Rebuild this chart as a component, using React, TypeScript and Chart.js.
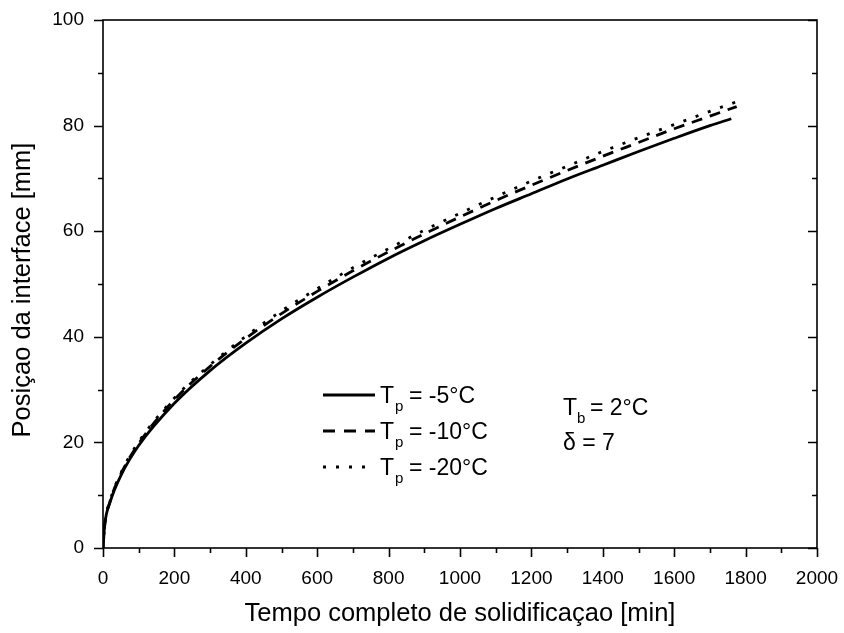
import React, { useEffect, useRef } from "react";
import { Chart, registerables } from "chart.js";

Chart.register(...registerables);

// x values (min) and y values (mm)
const tSolid = [0, 5, 20, 50, 100, 200, 300, 400, 500, 600, 700, 800, 900, 1000, 1100, 1200, 1300, 1400, 1500, 1600, 1700, 1760];
const ySolid = [0, 4.5, 8.7, 13.7, 19.4, 27.4, 33.6, 38.8, 43.4, 47.5, 51.3, 54.9, 58.2, 61.3, 64.3, 67.1, 69.9, 72.5, 75.1, 77.6, 80.0, 81.3];

const tDashed = [0, 5, 20, 50, 100, 200, 300, 400, 500, 600, 700, 800, 900, 1000, 1100, 1200, 1300, 1400, 1500, 1600, 1700, 1775];
const yDashed = [0, 4.4, 8.9, 14.0, 19.8, 28.1, 34.4, 39.7, 44.4, 48.6, 52.5, 56.1, 59.5, 62.7, 65.8, 68.7, 71.5, 74.2, 76.8, 79.4, 81.8, 83.6];

const tDotted = [0, 5, 20, 50, 100, 200, 300, 400, 500, 600, 700, 800, 900, 1000, 1100, 1200, 1300, 1400, 1500, 1600, 1700, 1795];
const yDotted = [0, 4.5, 9.0, 14.2, 20.1, 28.4, 34.7, 40.1, 44.9, 49.1, 53.1, 56.7, 60.2, 63.4, 66.5, 69.5, 72.3, 75.1, 77.7, 80.2, 82.7, 85.0];

const seriesLabels = ["-5°C", "-10°C", "-20°C"];
const xTitle = "Tempo completo de solidificaçao [min]";
const yTitle = "Posiçao da interface [mm]";

const FONT = "'Liberation Sans', Arial, sans-serif";

const pts = (xs: number[], ys: number[]) => xs.map((x, i) => ({ x, y: ys[i] }));

const decorPlugin = {
  id: "decor",
  afterDatasetsDraw(chart: any) {
    const ctx = chart.ctx as CanvasRenderingContext2D;
    const { left, right, top, bottom } = chart.chartArea;
    const xs = chart.scales.x;
    const ys = chart.scales.y;
    ctx.save();
    ctx.strokeStyle = "#000";
    ctx.fillStyle = "#000";
    ctx.lineWidth = 1.6;
    ctx.setLineDash([]);
    // frame
    ctx.strokeRect(left, top, right - left, bottom - top);
    // x ticks (outward, bottom)
    for (let v = 0; v <= 2000; v += 100) {
      const px = Math.round(xs.getPixelForValue(v)) + 0.5;
      const len = v % 200 === 0 ? 9 : 5;
      ctx.beginPath();
      ctx.moveTo(px, bottom);
      ctx.lineTo(px, bottom + len);
      ctx.stroke();
    }
    // y ticks (outward left, inward right)
    for (let v = 0; v <= 100; v += 10) {
      const py = Math.round(ys.getPixelForValue(v)) + 0.5;
      const len = v % 20 === 0 ? 9 : 5;
      ctx.beginPath();
      ctx.moveTo(left, py);
      ctx.lineTo(left - len, py);
      ctx.moveTo(right, py);
      ctx.lineTo(right - len, py);
      ctx.stroke();
    }
    // titles
    ctx.font = `25.5px ${FONT}`;
    ctx.textAlign = "center";
    ctx.textBaseline = "alphabetic";
    ctx.fillText(xTitle, (left + right) / 2, 621);
    ctx.save();
    ctx.translate(30, (top + bottom) / 2 + 6);
    ctx.rotate(-Math.PI / 2);
    ctx.fillText(yTitle, 0, 0);
    ctx.restore();

    // legend
    const dashes = [[], [12, 9], [3, 10]];
    const lineYs = [395, 431, 467];
    ctx.textAlign = "left";
    for (let i = 0; i < 3; i++) {
      const ly = lineYs[i];
      ctx.lineWidth = 2.8;
      ctx.setLineDash(dashes[i]);
      ctx.beginPath();
      ctx.moveTo(323, ly);
      ctx.lineTo(375, ly);
      ctx.stroke();
      ctx.setLineDash([]);
      const base = ly + 8;
      ctx.font = `23px ${FONT}`;
      ctx.fillText("T", 380, base);
      ctx.font = `15px ${FONT}`;
      ctx.fillText("p", 395, base + 8);
      ctx.font = `23px ${FONT}`;
      ctx.fillText("= " + seriesLabels[i], 409, base);
    }
    // annotation
    ctx.font = `23px ${FONT}`;
    ctx.fillText("T", 563, 415);
    ctx.font = `15px ${FONT}`;
    ctx.fillText("b", 577, 423);
    ctx.font = `23px ${FONT}`;
    ctx.fillText("= 2°C", 590, 415);
    ctx.fillText("δ = 7", 563, 450);
    ctx.restore();
  },
};

export default function App() {
  const ref = useRef<HTMLCanvasElement>(null);
  useEffect(() => {
    if (!ref.current) return;
    const common = {
      borderColor: "#000",
      borderWidth: 2.8,
      pointRadius: 0,
      fill: false,
      cubicInterpolationMode: "monotone" as const,
    };
    const chart = new Chart(ref.current, {
      type: "line",
      data: {
        datasets: [
          { ...common, label: "Tp = -5°C", data: pts(tSolid, ySolid) },
          { ...common, label: "Tp = -10°C", data: pts(tDashed, yDashed), borderDash: [11, 8] },
          { ...common, label: "Tp = -20°C", data: pts(tDotted, yDotted), borderDash: [3, 10] },
        ],
      },
      options: {
        animation: false,
        responsive: false,
        layout: { padding: { top: 20, right: 27, left: 0, bottom: 0 } },
        plugins: { legend: { display: false }, tooltip: { enabled: false } },
        scales: {
          x: {
            type: "linear",
            min: 0,
            max: 2000,
            grid: { display: false },
            border: { display: false },
            ticks: {
              stepSize: 200,
              autoSkip: false,
              maxRotation: 0,
              padding: 11,
              color: "#000",
              font: { family: FONT, size: 19 },
              callback: (v: any) => String(v),
            },
            afterFit: (s: any) => {
              s.height = 85;
              s.paddingLeft = 0;
              s.paddingRight = 0;
            },
          },
          y: {
            min: 0,
            max: 100,
            grid: { display: false },
            border: { display: false },
            ticks: {
              stepSize: 20,
              padding: 11,
              color: "#000",
              font: { family: FONT, size: 19 },
              callback: (v: any) => String(v),
            },
            afterFit: (s: any) => {
              s.width = 103;
              s.paddingTop = 0;
              s.paddingBottom = 0;
            },
          },
        },
      },
      plugins: [decorPlugin],
    });
    return () => chart.destroy();
  }, []);
  return (
    <div style={{ position: "fixed", left: 0, top: 0, width: 844, height: 633, background: "#fff" }}>
      <canvas ref={ref} width={844} height={633} style={{ width: 844, height: 633 }} />
    </div>
  );
}
